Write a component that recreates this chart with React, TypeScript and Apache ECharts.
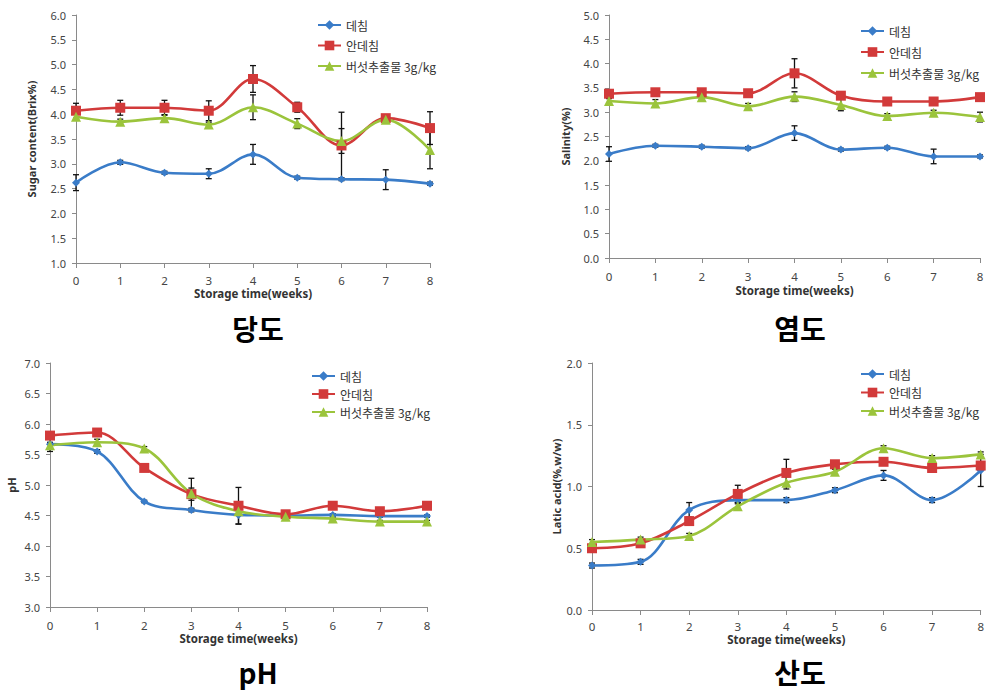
import React, { useEffect, useRef } from 'react';
import * as echarts from 'echarts';

// ---------- data ----------
const weeks = [0, 1, 2, 3, 4, 5, 6, 7, 8];
const seriesNames = ['데침', '안데침', '버섯추출물 3g/kg'];
const xAxisTitle = 'Storage time(weeks)';

// 당도 (sugar content, Brix%)
const sugarBlanched = [2.62, 3.03, 2.82, 2.8, 3.19, 2.72, 2.69, 2.68, 2.6];
const sugarUnblanched = [4.07, 4.13, 4.13, 4.07, 4.71, 4.14, 3.37, 3.92, 3.72];
const sugarMushroom = [3.95, 3.85, 3.92, 3.79, 4.14, 3.81, 3.46, 3.89, 3.28];
const sugarBlanchedErr = [0.16, 0.04, 0.03, 0.1, 0.2, 0.03, 0.03, 0.2, 0.03];
const sugarUnblanchedErr = [0.15, 0.15, 0.15, 0.2, 0.27, 0.1, 0.67, 0.04, 0.33];
const sugarMushroomErr = [0.07, 0.05, 0.07, 0.05, 0.25, 0.1, 0.25, 0.05, 0.38];

// 염도 (salinity %)
const saltBlanched = [2.14, 2.31, 2.29, 2.26, 2.57, 2.23, 2.27, 2.09, 2.09];
const saltUnblanched = [3.38, 3.41, 3.41, 3.39, 3.8, 3.34, 3.22, 3.22, 3.31];
const saltMushroom = [3.23, 3.18, 3.31, 3.12, 3.32, 3.15, 2.92, 2.99, 2.9];
const saltBlanchedErr = [0.15, 0.03, 0.03, 0.03, 0.15, 0.03, 0.03, 0.15, 0.03];
const saltUnblanchedErr = [0.05, 0.06, 0.04, 0.05, 0.3, 0.04, 0.05, 0.03, 0.03];
const saltMushroomErr = [0.05, 0.08, 0.04, 0.06, 0.1, 0.12, 0.05, 0.05, 0.1];

// pH
const phBlanched = [5.67, 5.55, 4.73, 4.59, 4.51, 4.5, 4.51, 4.49, 4.49];
const phUnblanched = [5.81, 5.86, 5.28, 4.85, 4.66, 4.52, 4.66, 4.57, 4.66];
const phMushroom = [5.65, 5.7, 5.6, 4.86, 4.57, 4.48, 4.45, 4.4, 4.4];
const phBlanchedErr = [0.12, 0.03, 0.02, 0.03, 0.15, 0.02, 0.02, 0.02, 0.02];
const phUnblanchedErr = [0.03, 0.05, 0.03, 0.1, 0.3, 0.02, 0.06, 0.03, 0.03];
const phMushroomErr = [0.05, 0.05, 0.03, 0.25, 0.05, 0.02, 0.02, 0.02, 0.02];

// 산도 (lactic acid %, w/w)
const acidBlanched = [0.36, 0.39, 0.81, 0.89, 0.89, 0.97, 1.09, 0.89, 1.13];
const acidUnblanched = [0.5, 0.54, 0.72, 0.94, 1.11, 1.18, 1.2, 1.15, 1.17];
const acidMushroom = [0.55, 0.57, 0.6, 0.84, 1.03, 1.12, 1.31, 1.23, 1.26];
const acidBlanchedErr = [0.02, 0.02, 0.06, 0.02, 0.02, 0.02, 0.04, 0.02, 0.13];
const acidUnblanchedErr = [0.02, 0.02, 0.03, 0.07, 0.11, 0.02, 0.02, 0.03, 0.02];
const acidMushroomErr = [0.02, 0.02, 0.02, 0.02, 0.05, 0.02, 0.02, 0.02, 0.02];

// ---------- styling / layout ----------
const seriesColors = ['#3A7CC8', '#D23A3A', '#9BC43C'];
const seriesSymbols = ['diamond', 'rect', 'triangle'];
const seriesSymbolSizes = [8, 10, 10];
const FONT = '"Noto Sans CJK KR", "Noto Sans", sans-serif';
const LATIN = '"Noto Sans", "Noto Sans CJK KR", sans-serif';

const panels = [
  {
    caption: '당도', captionX: 258, captionY: 328,
    yName: 'Sugar content(Brix%)', yMin: 1, yMax: 6, yNameGap: 38,
    grid: { left: 76, top: 15, width: 354, height: 248 },
    xLabelMargin: 11, xNameGap: 22.5,
    legend: { left: 312, top: 14, itemGap: 8.5 },
    values: [sugarBlanched, sugarUnblanched, sugarMushroom],
    errors: [sugarBlanchedErr, sugarUnblanchedErr, sugarMushroomErr],
  },
  {
    caption: '염도', captionX: 800, captionY: 328,
    yName: 'Salinity(%)', yMin: 0, yMax: 5, yNameGap: 37,
    grid: { left: 609, top: 15, width: 371, height: 243 },
    xLabelMargin: 12, xNameGap: 25.5,
    legend: { left: 855, top: 20, itemGap: 9 },
    values: [saltBlanched, saltUnblanched, saltMushroom],
    errors: [saltBlanchedErr, saltUnblanchedErr, saltMushroomErr],
  },
  {
    caption: 'pH', captionX: 258, captionY: 672,
    yName: 'pH', yMin: 3, yMax: 7, yNameGap: 32,
    grid: { left: 50, top: 363, width: 377, height: 244 },
    xLabelMargin: 12, xNameGap: 24.5,
    legend: { left: 306, top: 365, itemGap: 6 },
    values: [phBlanched, phUnblanched, phMushroom],
    errors: [phBlanchedErr, phUnblanchedErr, phMushroomErr],
  },
  {
    caption: '산도', captionX: 800, captionY: 672,
    yName: 'Latic acid(%,w/w)', yMin: 0, yMax: 2, yNameGap: 29,
    grid: { left: 592, top: 363, width: 389, height: 247 },
    xLabelMargin: 10, xNameGap: 22.5,
    legend: { left: 855, top: 363, itemGap: 6.5 },
    values: [acidBlanched, acidUnblanched, acidMushroom],
    errors: [acidBlanchedErr, acidUnblanchedErr, acidMushroomErr],
  },
];

function buildOption() {
  const grid: any[] = [];
  const xAxis: any[] = [];
  const yAxis: any[] = [];
  const legend: any[] = [];
  const series: any[] = [];
  const graphic: any[] = [];

  panels.forEach((p, i) => {
    grid.push({ ...p.grid, containLabel: false });
    xAxis.push({
      gridIndex: i,
      type: 'value',
      min: 0,
      max: 8,
      interval: 1,
      name: xAxisTitle,
      nameLocation: 'middle',
      nameGap: p.xNameGap,
      nameTextStyle: { fontFamily: LATIN, fontSize: 11.5, fontWeight: 'bold', color: '#333', lineHeight: 13 },
      axisLine: { lineStyle: { color: '#8a8a8a', width: 1 } },
      axisTick: { show: true, length: 5, lineStyle: { color: '#8a8a8a' } },
      axisLabel: { fontFamily: LATIN, fontSize: 11.5, color: '#444', margin: p.xLabelMargin, lineHeight: 12 },
      splitLine: { show: false },
    });
    yAxis.push({
      gridIndex: i,
      type: 'value',
      min: p.yMin,
      max: p.yMax,
      interval: 0.5,
      name: p.yName,
      nameLocation: 'middle',
      nameGap: p.yNameGap,
      nameTextStyle: { fontFamily: LATIN, fontSize: 11, fontWeight: 'bold', color: '#333', lineHeight: 13 },
      axisLine: { show: true, lineStyle: { color: '#8a8a8a', width: 1 } },
      axisTick: { show: true, length: 4, lineStyle: { color: '#8a8a8a' } },
      axisLabel: {
        fontFamily: LATIN, fontSize: 11, color: '#444', margin: 10, lineHeight: 12,
        formatter: (v: number) => v.toFixed(1),
      },
      splitLine: { show: false },
    });
    legend.push({
      data: seriesNames,
      orient: 'vertical',
      left: p.legend.left,
      top: p.legend.top,
      itemGap: p.legend.itemGap,
      itemWidth: 23,
      itemHeight: 12,
      textStyle: { fontFamily: FONT, fontSize: 12, color: '#333' },
      selectedMode: false,
    });
    seriesNames.forEach((name, k) => {
      const vals = p.values[k];
      const errs = p.errors[k];
      series.push({
        type: 'custom',
        name: 'err-' + i + '-' + k,
        xAxisIndex: i,
        yAxisIndex: i,
        z: 1,
        silent: true,
        data: weeks.map((w, j) => [w, vals[j] - errs[j], vals[j] + errs[j]]),
        encode: { x: 0, y: [1, 2] },
        renderItem: (params: any, api: any) => {
          const x = api.value(0);
          const top = api.coord([x, api.value(2)]);
          const bot = api.coord([x, api.value(1)]);
          const hw = 3;
          const st = { stroke: '#111', lineWidth: 1.3 };
          return {
            type: 'group',
            children: [
              { type: 'line', shape: { x1: top[0], y1: top[1], x2: bot[0], y2: bot[1] }, style: st },
              { type: 'line', shape: { x1: top[0] - hw, y1: top[1], x2: top[0] + hw, y2: top[1] }, style: st },
              { type: 'line', shape: { x1: bot[0] - hw, y1: bot[1], x2: bot[0] + hw, y2: bot[1] }, style: st },
            ],
          };
        },
      });
      series.push({
        type: 'line',
        name,
        xAxisIndex: i,
        yAxisIndex: i,
        z: 3,
        smooth: 0.35,
        data: weeks.map((w, j) => [w, vals[j]]),
        symbol: seriesSymbols[k],
        symbolSize: seriesSymbolSizes[k],
        showAllSymbol: true,
        lineStyle: { color: seriesColors[k], width: 2.6 },
        itemStyle: { color: seriesColors[k] },
      });
    });
    graphic.push({
      type: 'text',
      x: p.captionX,
      y: p.captionY,
      style: {
        text: p.caption,
        fontFamily: FONT,
        fontSize: 28,
        fontWeight: 'bold',
        lineHeight: 32,
        fill: '#000',
        align: 'center',
        verticalAlign: 'middle',
      },
    });
  });

  return {
    animation: false,
    backgroundColor: '#ffffff',
    color: seriesColors,
    grid,
    xAxis,
    yAxis,
    legend,
    series,
    graphic,
  };
}

export default function App() {
  const ref = useRef<HTMLDivElement>(null);
  useEffect(() => {
    if (!ref.current) return;
    const chart = echarts.init(ref.current, undefined, { renderer: 'svg' });
    chart.setOption(buildOption() as any);
    return () => chart.dispose();
  }, []);
  return (
    <div
      ref={ref}
      style={{ position: 'absolute', left: 0, top: 0, width: 987, height: 695, background: '#fff' }}
    />
  );
}
